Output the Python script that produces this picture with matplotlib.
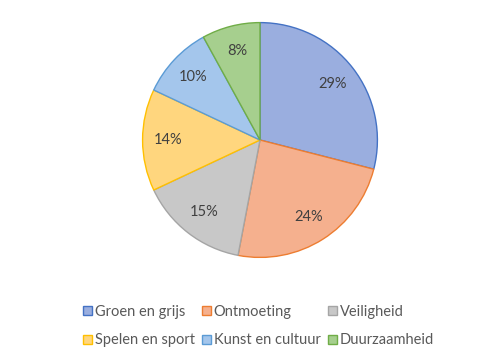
import matplotlib.pyplot as plt
from matplotlib.patches import Patch

plt.rcParams['font.family'] = ['Lato', 'DejaVu Sans']

labels = ["Groen en grijs", "Ontmoeting", "Veiligheid",
          "Spelen en sport", "Kunst en cultuur", "Duurzaamheid"]
values = [29, 24, 15, 14, 10, 8]
fills = ["#9AAEDF", "#F5B08E", "#C8C8C8", "#FFD67E", "#A4C6EC", "#A6CF8E"]
edges = ["#4472C4", "#ED7D31", "#A5A5A5", "#FFC000", "#5B9BD5", "#70AD47"]

fig = plt.figure(figsize=(5, 3.58), dpi=100)
ax = fig.add_axes([0.284, 0.2793, 0.472, 0.6592])

wedges, texts, autotexts = ax.pie(values, colors=fills, startangle=90, counterclock=False,
                                  autopct='%d%%', pctdistance=0.78,
                                  wedgeprops=dict(linewidth=1.0))
for w, e in zip(wedges, edges):
    w.set_edgecolor(e)
for t in autotexts:
    t.set_color("#404040")
    t.set_fontsize(10.5)
ax.set_xlim(-1.005, 1.005)
ax.set_ylim(-1.005, 1.005)
ax.set_aspect('equal')

# legend in excel order: row by row
handles = [Patch(facecolor=f, edgecolor=e, linewidth=1) for f, e in zip(fills, edges)]
# matplotlib fills columns first, so reorder
order = [0, 3, 1, 4, 2, 5]
fig.legend([handles[i] for i in order], [labels[i] for i in order],
           loc='center', bbox_to_anchor=(0.517, 0.089), ncol=3, frameon=False,
           fontsize=10.5, labelcolor="#595959", handlelength=0.6, handleheight=0.6,
           handletextpad=0.2, columnspacing=0.5, labelspacing=1.0)

plt.savefig("out.png")
